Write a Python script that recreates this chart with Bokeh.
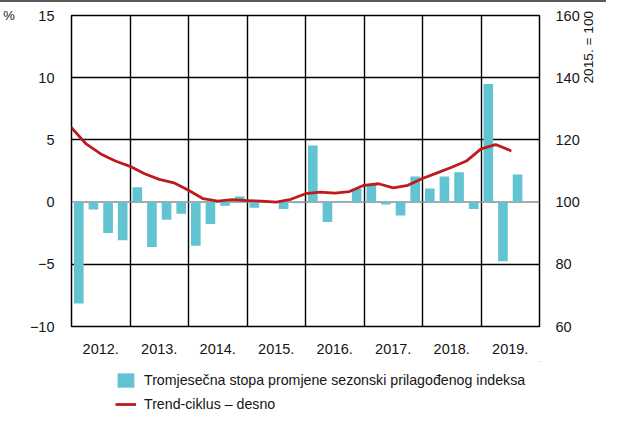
from bokeh.plotting import figure
from bokeh.models import (Range1d, LinearAxis, FixedTicker, Span,
                          Legend, LegendItem, ColumnDataSource)
from bokeh.layouts import column
from bokeh.embed import file_html
from bokeh.resources import INLINE
import math

# ---------------- data ----------------
years = ["2012.", "2013.", "2014.", "2015.", "2016.", "2017.", "2018.", "2019."]
# quarterly rate of change of the seasonally adjusted index (%), 2012 Q1 .. 2019 Q3
rate = [-8.15, -0.59, -2.49, -3.07,
        1.20, -3.60, -1.41, -0.93,
        -3.50, -1.76, -0.29, 0.45,
        -0.45, 0.00, -0.56, -0.10,
        4.55, -1.60, 0.08, 1.07,
        1.40, -0.20, -1.07, 2.05,
        1.10, 2.06, 2.40, -0.56,
        9.50, -4.76, 2.22]
# trend-cycle (2015 = 100), right axis, 2012 Q1 .. 2019 Q3
trend = [123.9, 118.7, 115.5, 113.2,
         111.5, 109.1, 107.3, 106.2,
         103.8, 101.1, 100.3, 100.8,
         100.5, 100.3, 100.0, 100.9,
         102.7, 103.2, 102.9, 103.4,
         105.4, 105.9, 104.6, 105.4,
         107.6, 109.4, 111.2, 113.2,
         117.1, 118.5, 116.6]
left_ticks = [-10, -5, 0, 5, 10, 15]
right_ticks = [60, 80, 100, 120, 140, 160]
bar_label = "Tromjesečna stopa promjene sezonski prilagođenog indeksa"
line_label = "Trend-ciklus \u2013 desno"
left_unit = "%"
right_unit = "2015. = 100"

FONT = "Liberation Sans"
TXT = "#151515"
BAR = "#63C4D1"
RED = "#BE1B1F"
RULE = "#5a5a5a"
W = 606

n_q = len(years) * 4
bar_src = ColumnDataSource(dict(x=[i + 0.5 for i in range(len(rate))], top=rate))
line_src = ColumnDataSource(dict(x=list(range(len(trend))), y=trend))

# ---------------- thin rule at the very top ----------------
rule = figure(width=W, height=2, output_backend="svg", toolbar_location=None,
              x_range=Range1d(0, 1), y_range=Range1d(0, 1),
              x_axis_location=None, y_axis_location=None, min_border=0,
              styles={"background-color": RULE})
rule.outline_line_color = None
rule.grid.visible = False
rule.background_fill_color = RULE
rule.border_fill_color = RULE

# ---------------- main chart ----------------
p = figure(width=W, height=359, output_backend="svg", toolbar_location=None,
           x_range=Range1d(0, n_q), y_range=Range1d(-10, 15),
           min_border_left=66, min_border_right=56, min_border_top=13,
           min_border_bottom=35)
p.extra_y_ranges = {"right": Range1d(60, 160)}
p.outline_line_color = "black"
p.outline_line_width = 1.5

p.xgrid.ticker = FixedTicker(ticks=[4 * k for k in range(1, len(years))])
p.xgrid.grid_line_color = "black"
p.xgrid.grid_line_width = 1.4
p.ygrid.ticker = FixedTicker(ticks=[-5, 5, 10])
p.ygrid.grid_line_color = "black"
p.ygrid.grid_line_width = 1.4
p.add_layout(Span(location=0, dimension="width", line_color="#8c8c8c",
                  line_width=1.5, level="underlay"))

xa = p.xaxis[0]
xa.ticker = FixedTicker(ticks=[4 * k + 2 for k in range(len(years))])
xa.major_label_overrides = {4 * k + 2: y for k, y in enumerate(years)}
ya = p.yaxis[0]
ya.ticker = FixedTicker(ticks=left_ticks)
ya.major_label_overrides = {t: str(t).replace("-", "\u2212") for t in left_ticks}
ra = LinearAxis(y_range_name="right", ticker=FixedTicker(ticks=right_ticks))
p.add_layout(ra, "right")
# an outer right axis that only carries the unit label (upper half)
ra2 = LinearAxis(y_range_name="right", ticker=FixedTicker(ticks=[]))
p.add_layout(ra2, "right")

for ax in (xa, ya, ra, ra2):
    ax.axis_line_color = None
    ax.major_tick_line_color = None
    ax.minor_tick_line_color = None
    ax.major_label_text_font = FONT
    ax.major_label_text_font_size = "14.5px"
    ax.major_label_text_color = TXT
ya.major_label_standoff = 11
ra.major_label_standoff = 10
xa.major_label_standoff = 11
ra2.major_label_standoff = 0

ya.axis_label = left_unit
ya.axis_label_orientation = "horizontal"
ya.axis_label_align = "end"
ya.axis_label_standoff = 12
ya.axis_label_text_font = FONT
ya.axis_label_text_font_style = "normal"
ya.axis_label_text_font_size = "13px"
ya.axis_label_text_color = TXT

# the label starts at the middle of the axis and runs upwards; non-breaking
# spaces lift it into the upper part, as in the original
ra2.axis_label = "\u00a0" * 23 + right_unit
ra2.axis_label_orientation = math.pi / 2
ra2.axis_label_standoff = 6
ra2.axis_label_text_font = FONT
ra2.axis_label_text_font_style = "normal"
ra2.axis_label_text_font_size = "13.7px"
ra2.axis_label_text_color = TXT

bars = p.vbar(x="x", top="top", bottom=0, width=0.66, source=bar_src,
              fill_color=BAR, line_color=None)
line = p.line(x="x", y="y", source=line_src, y_range_name="right",
              line_color=RED, line_width=2.8, line_join="round", line_cap="round")

# ---------------- legend strip (proxies of the two series, out of view) ----------------
lg = figure(width=W, height=52, output_backend="svg", toolbar_location=None,
            x_range=Range1d(-20, -19), y_range=Range1d(-20, -19),
            x_axis_location=None, y_axis_location=None, min_border=0)
lg.outline_line_color = None
lg.grid.visible = False
lg_bar = lg.vbar(x="x", top="top", bottom=0, width=0.66, source=bar_src,
                 fill_color=BAR, line_color=None)
lg_line = lg.line(x="x", y="y", source=line_src, line_color=RED, line_width=2.8)
legend = Legend(items=[LegendItem(label=bar_label, renderers=[lg_bar]),
                       LegendItem(label=line_label, renderers=[lg_line])],
                location=(44, 0), orientation="vertical")
legend.label_text_font = FONT
legend.label_text_font_size = "14.2px"
legend.label_text_color = TXT
legend.glyph_width = 21
legend.glyph_height = 18
legend.label_height = 18
legend.spacing = 6
legend.padding = 0
legend.margin = 0
legend.label_standoff = 8
legend.border_line_color = None
legend.background_fill_alpha = 0
lg.add_layout(legend, "center")

layout = column(rule, p, lg, spacing=0)
open("out.html", "w").write(file_html(layout, INLINE))
